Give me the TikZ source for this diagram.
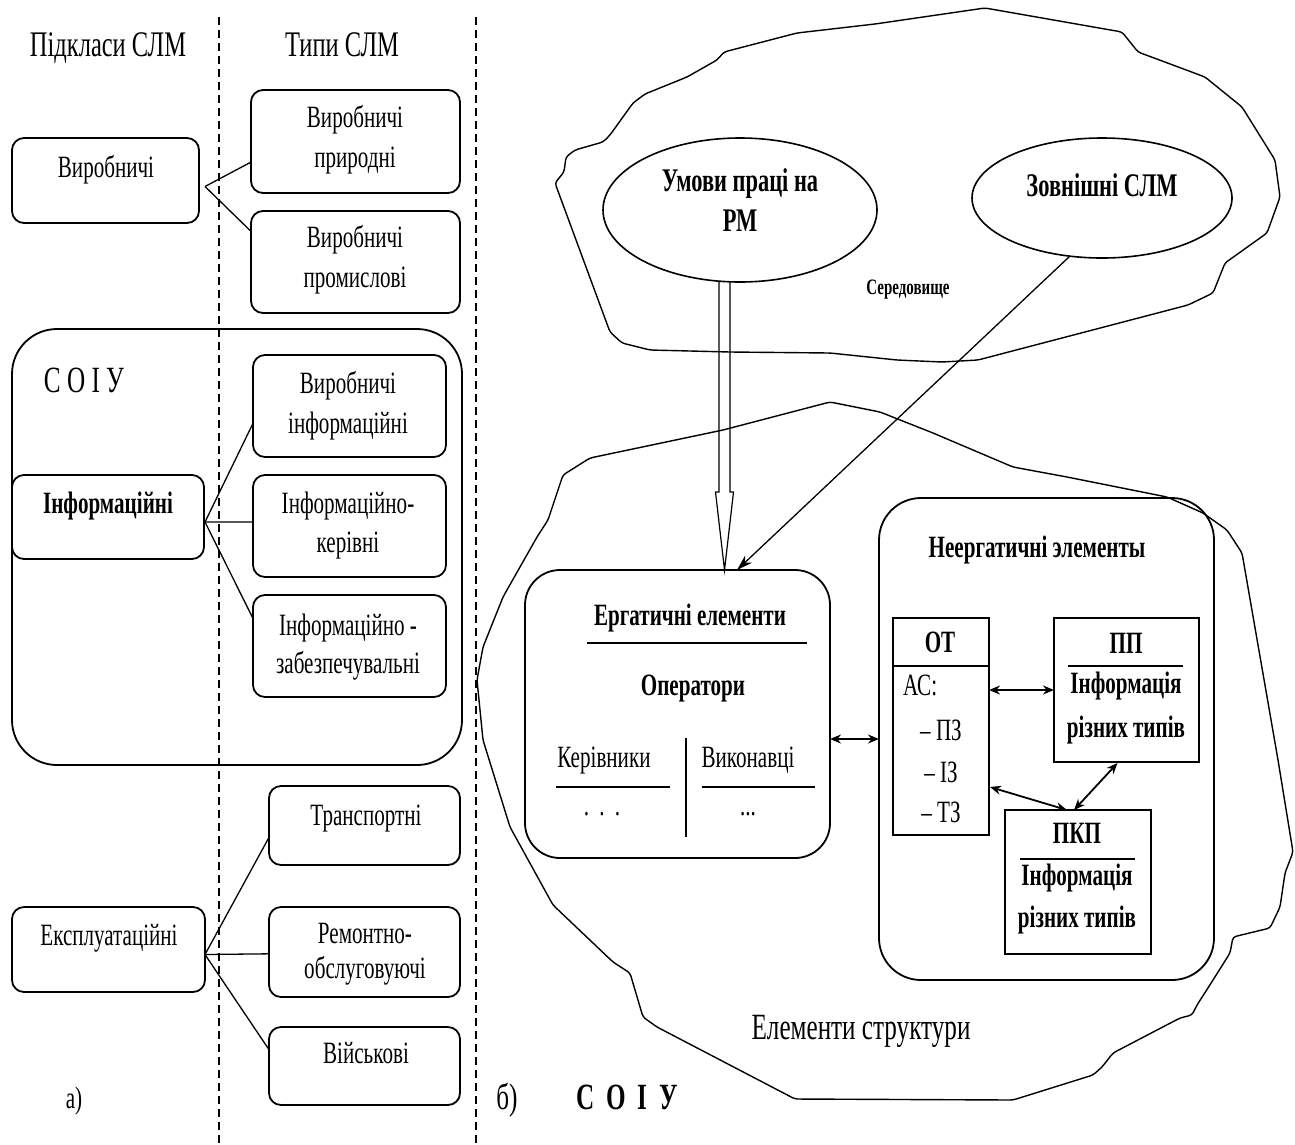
\documentclass[tikz,border=0pt]{standalone}
\usepackage{fontspec}
\setmainfont{Liberation Serif}[FakeStretch=0.68]
\usetikzlibrary{shapes.geometric,arrows.meta,calc}

\begin{document}
\begin{tikzpicture}[x=1pt,y=-1pt,
  txt/.style={inner sep=0pt, outer sep=0pt, text depth=0pt},
  tH/.style={txt, font=\fontsize{36}{36}\selectfont, text height=24pt},
  tB/.style={txt, font=\fontsize{31}{31}\selectfont, text height=20.5pt},
  tBb/.style={txt, font=\fontsize{31}{31}\selectfont\bfseries, text height=20.5pt},
  tE/.style={txt, font=\fontsize{33}{33}\selectfont\bfseries, text height=22pt},
  tS/.style={txt, font=\fontsize{22}{22}\selectfont\bfseries, text height=14.5pt},
  tL/.style={txt, font=\fontsize{37}{37}\selectfont, text height=24.5pt},
  tLb/.style={txt, font=\fontsize{37}{37}\selectfont\bfseries, text height=24.5pt},
  box/.style={draw, line width=1.8pt, rounded corners=12pt, inner sep=0pt, outer sep=0pt, anchor=north west},
  rbox/.style={draw, line width=1.6pt, inner sep=0pt, outer sep=0pt, anchor=north west},
  ell/.style={draw, ellipse, line width=1.6pt, inner sep=0pt, outer sep=0pt},
  link/.style={line width=1.3pt},
  blob/.style={line width=1.4pt, rounded corners=3pt, line join=round},
  divider/.style={line width=1.3pt, dash pattern=on 8pt off 5pt},
  dbl/.style={line width=1.8pt, {Stealth[length=11pt,width=9pt]}-{Stealth[length=11pt,width=9pt]}}
]
\useasboundingbox (0,0) rectangle (1295,1144);

% ---------- part a): subclasses and types ----------
\draw[divider] (219,17) -- (219,1144);
\draw[divider] (476,17) -- (476,1144);

\node[tH] (hsub) at (108,44) {Підкласи СЛМ};
\node[tH] (htyp) at (342,44) {Типи СЛМ};

% production group
\node[box, minimum width=187pt, minimum height=85pt] (vyr) at (12,138) {};
\node[box, minimum width=209pt, minimum height=103pt] (vyrpr) at (251,90) {};
\node[box, minimum width=209pt, minimum height=102pt] (vyrprom) at (251,211) {};
\node[tB] (vyr-t) at (106,167) {Виробничі};
\node[tB] (vyrpr-t1) at (355,117) {Виробничі};
\node[tB] (vyrpr-t2) at (355,157) {природні};
\node[tB] (vyrprom-t1) at (355,237) {Виробничі};
\node[tB] (vyrprom-t2) at (355,277) {промислові};
\coordinate (jv) at ($(vyr.east)+(6,6)$);
\draw[link] (jv) -- ($(vyrpr.south west)!0.3!(vyrpr.north west)$);
\draw[link] (jv) -- ($(vyrprom.north west)!0.2!(vyrprom.south west)$);

% information group inside the SOIU frame
\node[box, rounded corners=45pt, minimum width=450pt, minimum height=436pt] (soiu) at (12,329) {};
\node[tL] (soiu-t) at (84,380) {С О І У};
\node[box, minimum width=192pt, minimum height=84pt] (info) at (12,475) {};
\node[box, minimum width=193pt, minimum height=102pt] (vinf) at (253,355) {};
\node[box, minimum width=193pt, minimum height=102pt] (iker) at (253,475) {};
\node[box, minimum width=193pt, minimum height=102pt] (izab) at (253,595) {};
\node[tBb] (info-t) at (108,503) {Інформаційні};
\node[tB] (vinf-t1) at (348,383) {Виробничі};
\node[tB] (vinf-t2) at (348,423) {інформаційні};
\node[tB] (iker-t1) at (348,503) {Інформаційно-};
\node[tB] (iker-t2) at (348,542) {керівні};
\node[tB] (izab-t1) at (348,625) {Інформаційно -};
\node[tB] (izab-t2) at (348,663) {забезпечувальні};
\coordinate (ji) at ($(info.east)+(1,5)$);
\draw[link] (ji) -- ($(vinf.north west)!0.67!(vinf.south west)$);
\draw[link] (ji) -- ($(iker.north west)!0.46!(iker.south west)$);
\draw[link] (ji) -- ($(izab.north west)!0.23!(izab.south west)$);

% operational group
\node[box, minimum width=193pt, minimum height=85pt] (eks) at (12,907) {};
\node[box, minimum width=191pt, minimum height=79pt] (tr) at (269,786) {};
\node[box, minimum width=191pt, minimum height=90pt] (rem) at (269,907) {};
\node[box, minimum width=191pt, minimum height=78pt] (vii) at (269,1027) {};
\node[tB] (eks-t) at (109,935) {Експлуатаційні};
\node[tB] (tr-t) at (366,815) {Транспортні};
\node[tB] (rem-t1) at (365,933) {Ремонтно-};
\node[tB] (rem-t2) at (365,968) {обслуговуючі};
\node[tB] (vii-t) at (366,1053) {Військові};
\coordinate (je) at ($(eks.east)+(0,5)$);
\draw[link] (je) -- ($(tr.north west)!0.65!(tr.south west)$);
\draw[link] (je) -- ($(rem.north west)!0.52!(rem.south west)$);
\draw[link] (je) -- ($(vii.north west)!0.29!(vii.south west)$);
\node[tB] (a-t) at (74,1098) {а)};

% ---------- part b): structure of SOIU ----------
% environment outline
\draw[blob] (555,183) -- (564,172) -- (566,157) -- (575,150) -- (603,142) -- (610,135)
  -- (633,103) -- (645,94) -- (687,77) -- (717,60) -- (724,52) -- (797,33) -- (875,24)
  -- (985,8) -- (1122,32) -- (1138,52) -- (1205,77) -- (1242,107) -- (1275,160)
  -- (1280,197) -- (1267,233) -- (1225,263) -- (1213,293) -- (1188,305) -- (978,360)
  -- (942,362) -- (897,360) -- (830,353) -- (730,352) -- (650,350) -- (622,343)
  -- (610,332) -- cycle;
% structure elements outline
\draw[blob] (830,402) -- (880,412) -- (933,433) -- (1013,467) -- (1067,477) -- (1167,497)
  -- (1203,513) -- (1227,530) -- (1242,553) -- (1278,760) -- (1293,852) -- (1285,873)
  -- (1280,907) -- (1270,928) -- (1233,937) -- (1230,953) -- (1213,980) -- (1197,1005)
  -- (1192,1015) -- (1180,1018) -- (1157,1030) -- (1113,1053) -- (1102,1067)
  -- (1093,1075) -- (1013,1100) -- (795,1099) -- (657,1027) -- (643,1017) -- (630,973)
  -- (613,962) -- (553,905) -- (510,827) -- (483,740) -- (477,680) -- (483,647)
  -- (503,597) -- (537,537) -- (548,520) -- (563,475) -- (590,458) -- (723,430) -- cycle;

\node[ell, minimum width=274pt, minimum height=144pt] (umovy) at (740,210) {};
\node[tE] (umovy-t1) at (740,180) {Умови праці на};
\node[tE] (umovy-t2) at (740,220) {РМ};
\node[ell, minimum width=260pt, minimum height=120pt] (zovn) at (1102,198) {};
\node[tE] (zovn-t) at (1102,185) {Зовнішні СЛМ};
\node[tS] (sered) at (908,287) {Середовище};

% ergatic elements
\node[box, rounded corners=35pt, minimum width=305pt, minimum height=288pt] (erg) at (525,570) {};
\node[tBb] (erg-t) at (690,615) {Ергатичні елементи};
\draw[line width=1.8pt] ($(erg.north west)+(62,73)$) -- ($(erg.north west)+(282,73)$);
\node[tBb] (oper-t) at (693,685) {Оператори};
\node[tB] (ker-t) at (604,757) {Керівники};
\node[tB] (vyk-t) at (748,757) {Виконавці};
\draw[line width=1.8pt] ($(erg.north west)+(31,217)$) -- ($(erg.north west)+(145,217)$);
\draw[line width=1.8pt] ($(erg.north west)+(177,217)$) -- ($(erg.north west)+(290,217)$);
\draw[line width=1.3pt] ($(erg.north west)+(161,168)$) -- ($(erg.north west)+(161,267)$);
\node[tB] (ker-d) at (602,805) {.\,\,.\,\,.};
\node[tB] (vyk-d) at (748,805) {...};

% non-ergatic elements
\node[box, rounded corners=42pt, minimum width=335pt, minimum height=482pt] (neerg) at (879,498) {};
\node[tBb] (neerg-t) at (1037,547) {Неергатичні элементы};

\node[rbox, minimum width=96pt, minimum height=217pt] (ot) at (893,618) {};
\draw[line width=1.6pt] ($(ot.north west)+(0,48)$) -- ($(ot.north east)+(0,48)$);
\node[tBb] (ot-t) at (940,642) {ОТ};
\node[tB, anchor=west] (as-t) at (903,685) {АС:};
\node[tB] (pz-t) at (941,730) {– ПЗ};
\node[tB] (iz-t) at (941,772) {– ІЗ};
\node[tB] (tz-t) at (941,812) {– ТЗ};

\node[rbox, minimum width=145pt, minimum height=144pt] (pp) at (1054,618) {};
\node[tBb] (pp-t) at (1126,643) {ПП};
\draw[line width=1.6pt] ($(pp.north west)+(14,48)$) -- ($(pp.north west)+(129,48)$);
\node[tBb] (pp-t1) at (1126,683) {Інформація};
\node[tBb] (pp-t2) at (1126,727) {різних типів};

\node[rbox, minimum width=146pt, minimum height=144pt] (pkp) at (1005,810) {};
\node[tBb] (pkp-t) at (1077,833) {ПКП};
\draw[line width=1.6pt] ($(pkp.north west)+(15,49)$) -- ($(pkp.north west)+(130,49)$);
\node[tBb] (pkp-t1) at (1077,875) {Інформація};
\node[tBb] (pkp-t2) at (1077,917) {різних типів};

\node[tL] (struct-t) at (861,1027) {Елементи структури};
\node[tL] (b-t) at (507,1097) {б)};
\node[tLb] (soiu-b) at (627,1097) {С\hspace{12pt}О\hspace{12pt}І\hspace{12pt}У};

% connectors of part b)
\coordinate (dtop) at ($(umovy.south)+(-15.5,0)$);
\coordinate (dtip) at ($(erg.north west)+(199.5,0)$);
\draw[line width=1.2pt, line join=miter]
  ($(dtop)+(-5.5,0)$) -- ($(dtip)+(-5.5,-78)$) -- ($(dtip)+(-9,-78)$) -- (dtip)
  -- ($(dtip)+(9,-78)$) -- ($(dtip)+(5.5,-78)$) -- ($(dtop)+(5.5,0)$);
\draw[link, -{Stealth[length=16pt,width=10pt]}] ($(zovn.south)+(-32,-2)$) -- ($(erg.north west)+(212,0)$);

\draw[dbl] (erg.east |- neerg.west) -- (neerg.west);
\draw[dbl] (ot.east |- pp.west) -- (pp.west);
\draw[dbl] ($(ot.south east)+(1,-48)$) -- ($(pkp.north)+(-11,0)$);
\draw[dbl] ($(pp.south)+(-9,1)$) -- ($(pkp.north)+(-4,0)$);
\end{tikzpicture}
\end{document}
